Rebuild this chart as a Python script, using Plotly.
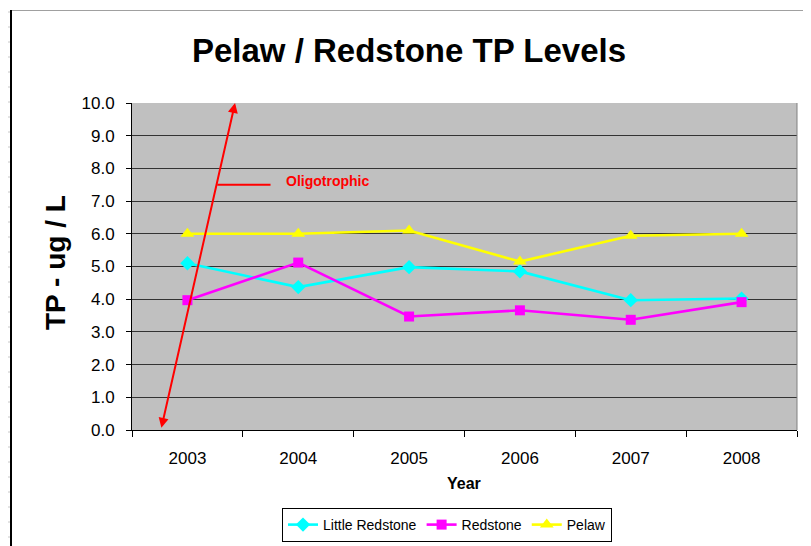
import plotly.graph_objects as go

years = ["2003", "2004", "2005", "2006", "2007", "2008"]
little_redstone = [5.1, 4.37, 4.98, 4.85, 3.97, 4.02]
redstone = [3.97, 5.12, 3.47, 3.66, 3.37, 3.91]
pelaw = [6.0, 6.0, 6.1, 5.15, 5.94, 6.0]
y_ticks = [0, 1, 2, 3, 4, 5, 6, 7, 8, 9, 10]
y_tick_text = [f"{v:.1f}" for v in y_ticks]

FONT = "Liberation Sans, Arial, sans-serif"
OFF = 8  # page body margin
W, H = 811 - OFF, 546 - OFF
L, R, T, B = 132, 797, 103, 430  # plot area in window pixels


def px(x):
    return (x - L) / (R - L)


def py(y):
    return (B - y) / (B - T)


fig = go.Figure()
fig.add_trace(go.Scatter(x=years, y=little_redstone, name="Little Redstone", mode="lines+markers",
                         line=dict(color="#00FFFF", width=2.6),
                         marker=dict(symbol="diamond", size=11, color="#00FFFF")))
fig.add_trace(go.Scatter(x=years, y=redstone, name="Redstone", mode="lines+markers",
                         line=dict(color="#FF00FF", width=2.6),
                         marker=dict(symbol="square", size=10, color="#FF00FF")))
fig.add_trace(go.Scatter(x=years, y=pelaw, name="Pelaw", mode="lines+markers",
                         line=dict(color="#FFFF00", width=2.6),
                         marker=dict(symbol="triangle-up", size=12, color="#FFFF00")))

shapes = []
shapes.append(dict(type="line", xref="paper", yref="paper", x0=1, x1=1, y0=0, y1=1,
                   line=dict(color="#808080", width=1)))
shapes.append(dict(type="line", xref="paper", yref="paper", x0=px(11), x1=px(806), y0=py(10.5), y1=py(10.5),
                   line=dict(color="#A0A0A0", width=1)))
shapes.append(dict(type="line", xref="paper", yref="paper", x0=px(11), x1=px(11), y0=py(10), y1=py(546),
                   line=dict(color="#000000", width=2)))
shapes.append(dict(type="line", xref="paper", yref="paper", x0=px(806), x1=px(806), y0=py(10), y1=py(546),
                   line=dict(color="#000000", width=2)))
for yy in range(12, 546, 15):
    shapes.append(dict(type="line", xref="paper", yref="paper", x0=px(8), x1=px(10), y0=py(yy), y1=py(yy),
                       line=dict(color="#C8C8C8", width=1)))
    shapes.append(dict(type="line", xref="paper", yref="paper", x0=px(808), x1=px(811), y0=py(yy), y1=py(yy),
                       line=dict(color="#C8C8C8", width=1)))
shapes.append(dict(type="line", xref="x", yref="y", x0=0.27, x1=0.75, y0=7.5, y1=7.5,
                   line=dict(color="#FF0000", width=2)))

annotations = [
    dict(x=0.43, y=10.0, ax=-0.238, ay=0.02, xref="x", yref="y", axref="x", ayref="y",
         text="", showarrow=True, arrowhead=2, startarrowhead=2, arrowside="end+start",
         arrowsize=1, startarrowsize=1, arrowwidth=2, arrowcolor="#FF0000", standoff=0, startstandoff=0),
    dict(x=0.87, y=7.6, xref="x", yref="y", text="<b>Oligotrophic</b>", showarrow=False,
         xanchor="left", yanchor="middle", font=dict(family=FONT, size=14, color="#FF0000")),
    dict(x=px(55), y=py(263), xref="paper", yref="paper", text="<b>TP - ug / L</b>", showarrow=False,
         textangle=-90, xanchor="center", yanchor="middle", font=dict(family=FONT, size=28, color="#000000")),
    dict(x=px(464), y=py(484), xref="paper", yref="paper", text="<b>Year</b>", showarrow=False,
         xanchor="center", yanchor="middle", font=dict(family=FONT, size=16, color="#000000")),
]

fig.update_layout(
    width=W, height=H,
    margin=dict(l=L - OFF, r=811 - R, t=T - OFF, b=546 - B, pad=0, autoexpand=False),
    paper_bgcolor="#FFFFFF",
    plot_bgcolor="#C0C0C0",
    font=dict(family=FONT, color="#000000"),
    title=dict(text="<b>Pelaw / Redstone TP Levels</b>", x=(409 - OFF) / W, xanchor="center",
               y=1 - (50 - OFF) / H, yanchor="middle", yref="container",
               font=dict(family=FONT, size=33, color="#000000")),
    xaxis=dict(type="category", tickson="boundaries", ticks="outside", ticklen=6, tickcolor="#000000",
               showline=True, linecolor="#000000", linewidth=1, showgrid=False,
               tickfont=dict(family=FONT, size=17), ticklabelstandoff=13, range=[-0.5, 5.5]),
    yaxis=dict(range=[0, 10], tickvals=y_ticks, ticktext=y_tick_text, ticks="outside", ticklen=5,
               tickcolor="#000000", showline=True, linecolor="#000000", linewidth=1,
               showgrid=True, gridcolor="#333333", gridwidth=1, zeroline=False,
               tickfont=dict(family=FONT, size=17), ticklabelstandoff=8),
    showlegend=True,
    legend=dict(orientation="h", x=px(447), xanchor="center", y=py(508), yanchor="top",
                bordercolor="#000000", borderwidth=1, bgcolor="#FFFFFF",
                font=dict(family=FONT, size=14, color="#000000"), itemwidth=30,
                traceorder="normal"),
    shapes=shapes,
    annotations=annotations,
)

fig.write_html("out.html")
